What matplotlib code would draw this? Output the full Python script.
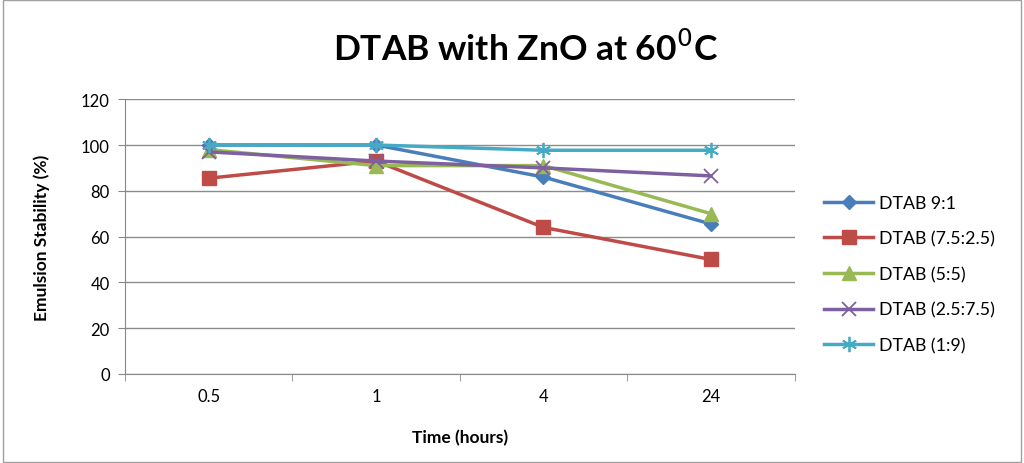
import numpy as np
import matplotlib.pyplot as plt
from matplotlib.patches import Rectangle

plt.rcParams['font.family'] = ['Lato', 'DejaVu Sans']

times = ['0.5', '1', '4', '24']
dtab_9_1 = [100, 100, 86, 65.5]
dtab_75_25 = [85.5, 93, 64, 50]
dtab_5_5 = [98, 91, 91, 70]
dtab_25_75 = [97, 93, 90, 86.5]
dtab_1_9 = [100, 100, 97.7, 97.7]

series = [
    ('DTAB 9:1', dtab_9_1, '#4a7ebb', 'D', 7),
    ('DTAB (7.5:2.5)', dtab_75_25, '#be4b48', 's', 10),
    ('DTAB (5:5)', dtab_5_5, '#98b954', '^', 10),
    ('DTAB (2.5:7.5)', dtab_25_75, '#7d60a0', 'x', 10),
    ('DTAB (1:9)', dtab_1_9, '#46aac5', '*', 11),
]

fig = plt.figure(figsize=(10.24, 4.64), dpi=100)
ax = fig.add_axes([0.122, 0.192, 0.654, 0.592])

x = np.arange(len(times))
for name, vals, col, mk, ms in series:
    if mk in ('x', '*'):
        # Excel-style open cross / asterisk markers
        m = 'x' if mk == 'x' else (6, 2, 0)
        ax.plot(x, vals, color=col, lw=2.5, marker=m, ms=ms, mew=1.3,
                mec=col, label=name)
    else:
        ax.plot(x, vals, color=col, lw=2.5, marker=mk, ms=ms, label=name)

ax.set_xlim(-0.5, len(times) - 0.5)
ax.set_ylim(0, 120)
ax.set_yticks(range(0, 121, 20))
ax.set_xticks(x)
ax.set_xticklabels(times)
ax.set_xticks(np.arange(-0.5, len(times), 1), minor=True)
ax.tick_params(axis='x', which='major', length=0, pad=10, labelsize=12)
ax.tick_params(axis='x', which='minor', length=5, color='#888888')
ax.tick_params(axis='y', length=5, color='#888888', labelsize=12, pad=6)
ax.yaxis.grid(True, color='#8c8c8c', lw=1)
ax.set_axisbelow(True)
for s in ['top', 'right']:
    ax.spines[s].set_visible(False)
for s in ['left', 'bottom']:
    ax.spines[s].set_color('#888888')

ax.set_xlabel('Time (hours)', fontsize=12.5, fontweight='bold', labelpad=18)
ax.set_ylabel('Emulsion Stability (%)', fontsize=12.5, fontweight='bold', labelpad=22)
fig.text(0.513, 0.895, 'DTAB with ZnO at 60$^{0}$C', ha='center', va='center',
         fontsize=25.5, fontweight='bold')

ax.legend(loc='center left', bbox_to_anchor=(0.805, 0.407),
          bbox_transform=fig.transFigure, frameon=False, borderpad=0,
          borderaxespad=0, fontsize=12.8, handlelength=2.75,
          labelspacing=1.1, handletextpad=0.3)

fig.patches.append(Rectangle((0.003, 0.003), 0.994, 0.994, transform=fig.transFigure,
                             fill=False, edgecolor='#a0a0a0', lw=1))

fig.savefig('out.png', dpi=100)
